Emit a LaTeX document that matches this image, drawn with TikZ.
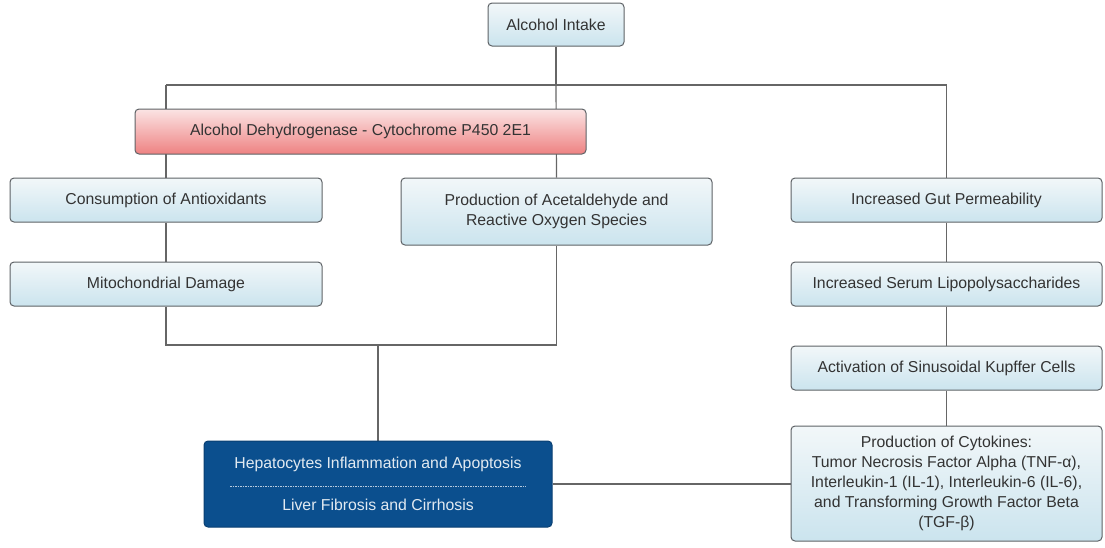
\documentclass[tikz,border=0pt]{standalone}
\usepackage{fontspec}
\setmainfont{Liberation Sans}
\definecolor{boxtop}{HTML}{F2F7F9}
\definecolor{boxbot}{HTML}{CBE4EE}
\definecolor{redtop}{HTML}{FBE4E4}
\definecolor{redbot}{HTML}{EE8282}
\definecolor{darkblue}{HTML}{0B4F8E}
\definecolor{boxborder}{HTML}{5E6266}
\definecolor{linegray}{HTML}{666666}
\definecolor{textgray}{HTML}{333333}
\pgfdeclarelayer{background}
\pgfsetlayers{background,main}
\begin{document}
\begin{tikzpicture}[x=1pt,y=-1pt,
  box/.style={draw=boxborder, line width=1pt, rounded corners=4pt,
    top color=boxtop, bottom color=boxbot, text=textgray, align=center,
    inner sep=0pt, font=\fontsize{15.8}{20}\selectfont},
  redbox/.style={box, top color=redtop, bottom color=redbot},
  darkbox/.style={box, top color=darkblue, bottom color=darkblue, draw=darkblue!80!black, text=white!88!darkblue},
  link/.style={draw=linegray, line width=1.2pt}]
\useasboundingbox (0,0) rectangle (1105,547);

\node[box, minimum width=136, minimum height=43] (intake) at (556,24.5) {Alcohol Intake};
\node[redbox, minimum width=451, minimum height=45] (adh) at (360.5,131.5) {Alcohol Dehydrogenase - Cytochrome P450 2E1};
\node[box, minimum width=312, minimum height=44] (cons) at (166,200) {Consumption of Antioxidants};
\node[box, minimum width=311, minimum height=67] (prod) at (556.5,211.5) {Production of Acetaldehyde and\\Reactive Oxygen Species};
\node[box, minimum width=311, minimum height=44] (gut) at (946.5,200) {Increased Gut Permeability};
\node[box, minimum width=312, minimum height=44] (mito) at (166,284) {Mitochondrial Damage};
\node[box, minimum width=311, minimum height=44] (lps) at (946.5,284) {Increased Serum Lipopolysaccharides};
\node[box, minimum width=311, minimum height=44] (kupf) at (946.5,368) {Activation of Sinusoidal Kupffer Cells};
\node[box, minimum width=311, minimum height=115] (cyto) at (946.5,483.5) {Production of Cytokines:\\Tumor Necrosis Factor Alpha (TNF-α),\\Interleukin-1 (IL-1), Interleukin-6 (IL-6),\\and Transforming Growth Factor Beta\\(TGF-β)};
\node[darkbox, minimum width=348, minimum height=86] (hep) at (378,484) {Hepatocytes Inflammation and Apoptosis\\[22pt]Liver Fibrosis and Cirrhosis};
\draw[white!70!darkblue, line width=0.8pt, dash pattern=on 1.5pt off 1pt] ([xshift=-148pt,yshift=-2pt]hep.center) coordinate (dl) -- ([xshift=148pt,yshift=-2pt]hep.center) coordinate (dr);

\coordinate (jt) at (556,85);
\coordinate (jl) at (166,85);
\coordinate (jr) at (946.5,85);
\coordinate (bl) at (166,345);
\coordinate (bm) at (378,345);
\coordinate (br) at (556.5,345);

\begin{pgfonlayer}{background}
\draw[link] (intake) -- (jt);
\draw[link] (jl) -- (jr);
\draw[link] (jl) -- (cons.north);
\draw[link] (jt) -- (prod.north);
\draw[link] (jr) -- (gut.north);
\draw[link] (cons) -- (mito);
\draw[link] (mito) -- (bl) -- (br) -- (prod);
\draw[link] (bm) -- (hep);
\draw[link] (gut) -- (lps);
\draw[link] (lps) -- (kupf);
\draw[link] (kupf) -- (cyto);
\draw[link] (hep.east) -- (hep.east -| cyto.west);
\end{pgfonlayer}
\end{tikzpicture}
\end{document}
